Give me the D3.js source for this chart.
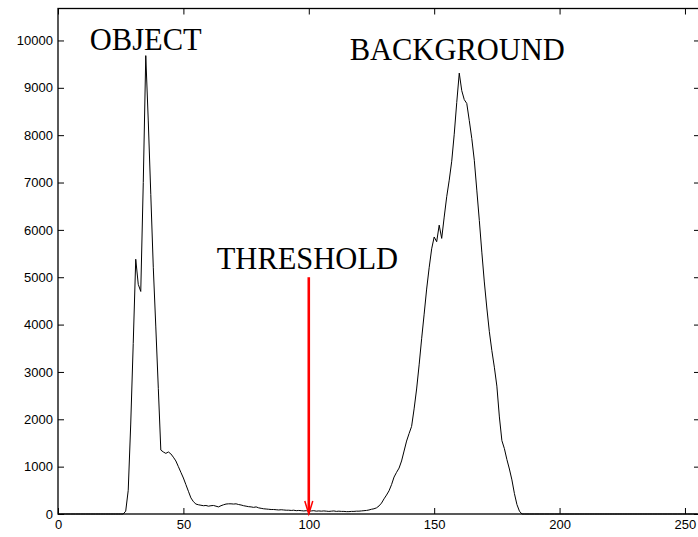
<!DOCTYPE html>
<html>
<head>
<meta charset="utf-8">
<script src="https://cdn.jsdelivr.net/npm/d3@7"></script>
<style>
    body { margin: 0; background: #fff; }
    svg { display: block; }
    .note { font-family: "Liberation Serif", "Times New Roman", serif; font-size: 30.5px; fill: #000; }
</style>
</head>
<body>
<script>

// gray level histogram, one count per level 0..255
var counts = [
    0, 0, 0, 0, 0, 0, 0, 0, 0, 0,                                // 0
    0, 0, 0, 0, 0, 0, 0, 0, 0, 0,                                // 10
    0, 0, 0, 0, 0, 0, 0, 60, 500, 1900,                          // 20
    3600, 5380, 4850, 4700, 7000, 9680, 8300, 6750, 5200, 3950,  // 30
    2650, 1350, 1310, 1280, 1310, 1270, 1200, 1120, 1000, 880,   // 40
    760, 620, 480, 340, 260, 210, 195, 185, 175, 180,            // 50
    165, 175, 180, 165, 150, 175, 195, 210, 215, 215,            // 60
    210, 215, 200, 190, 175, 165, 155, 150, 140, 150,            // 70
    130, 120, 110, 105, 100, 95, 95, 90, 85, 90,                 // 80
    85, 80, 80, 75, 80, 70, 75, 70, 65, 70,                      // 90
    60, 65, 70, 60, 65, 60, 65, 60, 55, 60,                      // 100
    65, 55, 60, 55, 55, 50, 50, 55, 55, 60,                      // 110
    60, 65, 70, 75, 85, 100, 110, 130, 170, 230,                 // 120
    320, 400, 490, 620, 780, 880, 970, 1120, 1330, 1540,         // 130
    1700, 1850, 2220, 2640, 3150, 3700, 4220, 4750, 5200, 5600,  // 140
    5850, 5750, 6100, 5820, 6270, 6700, 7050, 7450, 8020, 8690,  // 150
    9310, 8940, 8750, 8670, 8310, 7930, 7470, 6840, 6200, 5530,  // 160
    4900, 4350, 3850, 3450, 3100, 2700, 2050, 1550, 1380, 1150,  // 170
    950, 720, 430, 200, 60, 0, 0, 0, 0, 0,                       // 180
    0, 0, 0, 0, 0, 0, 0, 0, 0, 0,                                // 190
    0, 0, 0, 0, 0, 0, 0, 0, 0, 0,                                // 200
    0, 0, 0, 0, 0, 0, 0, 0, 0, 0,                                // 210
    0, 0, 0, 0, 0, 0, 0, 0, 0, 0,                                // 220
    0, 0, 0, 0, 0, 0, 0, 0, 0, 0,                                // 230
    0, 0, 0, 0, 0, 0, 0, 0, 0, 0,                                // 240
    0, 0, 0, 0, 0, 0                                             // 250
];

var xTicks = [0, 50, 100, 150, 200, 250];
var yTicks = [0, 1000, 2000, 3000, 4000, 5000, 6000, 7000, 8000, 9000, 10000];

var threshold = 100;        // gray level of the cut
var thresholdTop = 5000;    // arrow starts here

var noteObject = "OBJECT";
var noteBackground = "BACKGROUND";
var noteThreshold = "THRESHOLD";

(function () {

    var width = 698,
        height = 537;

    // plot box (right edge sits just past the window, like the original)
    var pLeft = 58, pRight = 700, pTop = 8.5, pBottom = 514;

    var x = d3.scaleLinear().domain([0, 256]).range([pLeft, pRight]);
    var y = d3.scaleLinear().domain([0, 10675]).range([pBottom, pTop]);

    var svg = d3.select("body").append("svg")
        .attr("width", width)
        .attr("height", height);

    var noDomain = function (g) {
        g.select(".domain").remove();
        g.attr("font-family", "'Liberation Sans', Arial, sans-serif")
         .attr("font-size", 13);
        g.selectAll(".tick line").attr("stroke", "#000");
        g.selectAll(".tick text").attr("fill", "#000");
    };

    // axes, ticks point inwards like matlab
    svg.append("g")
        .attr("transform", "translate(0," + pBottom + ")")
        .call(d3.axisBottom(x).tickValues(xTicks).tickSizeInner(-6).tickSizeOuter(0).tickPadding(6))
        .call(noDomain);

    svg.append("g")
        .attr("transform", "translate(0," + pTop + ")")
        .call(d3.axisTop(x).tickValues(xTicks).tickSizeInner(-6).tickSizeOuter(0).tickFormat(""))
        .call(noDomain);

    svg.append("g")
        .attr("transform", "translate(" + pLeft + ",0)")
        .call(d3.axisLeft(y).tickValues(yTicks).tickSizeInner(-6).tickSizeOuter(0).tickPadding(5).tickFormat(d3.format("d")))
        .call(noDomain);

    svg.append("g")
        .attr("transform", "translate(" + pRight + ",0)")
        .call(d3.axisRight(y).tickValues(yTicks).tickSizeInner(-6).tickSizeOuter(0).tickFormat(""))
        .call(noDomain);

    // box
    svg.append("rect")
        .attr("x", pLeft)
        .attr("y", pTop)
        .attr("width", pRight - pLeft)
        .attr("height", pBottom - pTop)
        .attr("fill", "none")
        .attr("stroke", "#000")
        .attr("stroke-width", 1.3);

    // histogram curve
    var line = d3.line()
        .x(function (d, i) { return x(i); })
        .y(function (d) { return y(d); });

    svg.append("path")
        .datum(counts)
        .attr("d", line)
        .attr("fill", "none")
        .attr("stroke", "#000")
        .attr("stroke-width", 1);

    // threshold arrow
    var ax = x(threshold);
    svg.append("line")
        .attr("x1", ax)
        .attr("x2", ax)
        .attr("y1", y(thresholdTop))
        .attr("y2", y(0) - 3)
        .attr("stroke", "#ff0000")
        .attr("stroke-width", 2.6);

    svg.append("path")
        .attr("d", "M" + (ax - 4) + "," + (y(0) - 13) + "L" + ax + "," + y(0) + "L" + (ax + 4) + "," + (y(0) - 13))
        .attr("fill", "none")
        .attr("stroke", "#ff0000")
        .attr("stroke-width", 1.5);

    // labels
    svg.append("text").attr("class", "note")
        .attr("x", x(12.7)).attr("y", y(9790))
        .text(noteObject);

    svg.append("text").attr("class", "note")
        .attr("x", x(116.3)).attr("y", y(9580))
        .text(noteBackground);

    svg.append("text").attr("class", "note")
        .attr("x", x(63.3)).attr("y", y(5170))
        .text(noteThreshold);

})();

</script>
</body>
</html>
